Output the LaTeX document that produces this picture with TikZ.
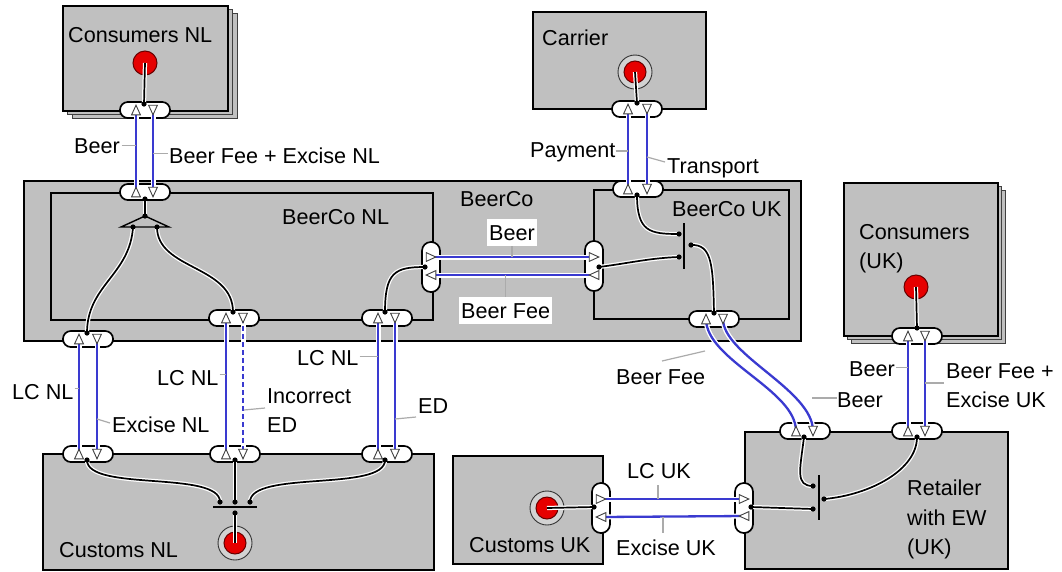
\documentclass[tikz,border=0pt]{standalone}
\usepackage{fontspec}
\setmainfont{Liberation Sans}
\usetikzlibrary{calc}
\definecolor{boxgray}{HTML}{C0C0C0}
\definecolor{ringgray}{HTML}{D2D2D2}
\definecolor{vtblue}{HTML}{3A3AD0}
\definecolor{stimred}{HTML}{E60000}
\definecolor{leadgray}{HTML}{ABABAB}
\tikzset{
 actor/.style={draw=black,line width=1.8pt,fill=boxgray,inner sep=0,anchor=north west},
 shadowbox/.style={draw=black!75,line width=1pt,fill=boxgray,inner sep=0,anchor=north west},
 hport/.style={draw=black,line width=1.7pt,fill=white,rounded corners=7.8pt,minimum width=50pt,minimum height=16pt,inner sep=0},
 vport/.style={draw=black,line width=1.7pt,fill=white,rounded corners=8.8pt,minimum width=18pt,minimum height=50pt,inner sep=0},
 dep/.style={draw=black,line width=1.7pt,preaction={draw=white,line width=4.2pt}},
 vt/.style={draw=vtblue,line width=2.3pt,preaction={draw=white,line width=5pt}},
 vtdash/.style={draw=vtblue,line width=2.3pt,dash pattern=on 5pt off 3pt,preaction={draw=white,line width=5pt}},
 lead/.style={draw=leadgray,line width=1.2pt},
 lbl/.style={font=\fontsize{21.6}{25}\selectfont,inner sep=0,anchor=base west},
 wlbl/.style={font=\fontsize{21.6}{25}\selectfont,inner xsep=2pt,inner ysep=6pt,fill=white,anchor=base west},
 startstim/.style={circle,minimum size=24pt,inner sep=0,fill=stimred,draw=black!60!red,line width=1pt},
 endouter/.style={circle,minimum size=34pt,inner sep=0,fill=ringgray,draw=black!80,line width=0.9pt},
 endinner/.style={circle,minimum size=22pt,inner sep=0,fill=stimred,draw=black!60!red,line width=1pt},
 element/.style={draw=black,line width=1.4pt},
 tristyle/.style={draw=black!75,fill=white,line width=0.9pt},
 triup/.pic={\draw[tristyle] (-4.4,4.8) -- (4.4,4.8) -- (0,-4.8) -- cycle;},
 tridown/.pic={\draw[tristyle] (-4.4,-4.8) -- (4.4,-4.8) -- (0,4.8) -- cycle;},
 triright/.pic={\draw[tristyle] (-4.8,-4.4) -- (-4.8,4.4) -- (4.8,0) -- cycle;},
 trileft/.pic={\draw[tristyle] (4.8,-4.4) -- (4.8,4.4) -- (-4.8,0) -- cycle;},
}
\begin{document}
\begin{tikzpicture}[x=1pt,y=-1pt]
\fill[white] (0,0) rectangle (1062,571);
\useasboundingbox (0,0) rectangle (1062,571);

% ---------- actors ----------
\node[shadowbox,minimum width=165pt,minimum height=105pt] (consnlS2) at (72,13) {};
\node[shadowbox,minimum width=165pt,minimum height=105pt] (consnlS1) at (67,9) {};
\node[actor,minimum width=165pt,minimum height=105pt] (consnl) at (62,5) {};
\node[actor,minimum width=173pt,minimum height=97pt] (carrier) at (532,11) {};
\node[actor,minimum width=777pt,minimum height=160pt] (beerco) at (23,180) {};
\node[actor,minimum width=382pt,minimum height=127pt] (beerconl) at (50,192) {};
\node[actor,minimum width=195pt,minimum height=129pt] (beercouk) at (593,189) {};
\node[shadowbox,minimum width=154pt,minimum height=153pt] (consukS2) at (851,190) {};
\node[shadowbox,minimum width=154pt,minimum height=153pt] (consukS1) at (847,186) {};
\node[actor,minimum width=154pt,minimum height=153pt] (consuk) at (843,182) {};
\node[actor,minimum width=391pt,minimum height=116pt] (customsnl) at (42,453) {};
\node[actor,minimum width=150pt,minimum height=108pt] (customsuk) at (452,455) {};
\node[actor,minimum width=263pt,minimum height=137pt] (retailer) at (744,431) {};

% ---------- ports ----------
\node[hport] (p1) at (145,110) {};
\node[hport] (p2) at (145,192) {};
\node[hport] (p3) at (637,109) {};
\node[hport] (p4) at (638,189) {};
\node[hport] (p5) at (88,339) {};
\node[hport] (p6) at (234,318) {};
\node[hport] (p7) at (387,318) {};
\node[hport] (p8) at (714,319) {};
\node[hport] (p9) at (917,336) {};
\node[hport] (p10) at (88,454) {};
\node[hport] (p11) at (235,454) {};
\node[hport] (p12) at (387,454) {};
\node[hport] (p13) at (805,431) {};
\node[hport] (p14) at (917,431) {};
\node[vport] (v1) at (431,267) {};
\node[vport] (v2) at (594,266) {};
\node[vport] (v3) at (601,508) {};
\node[vport] (v4) at (744,508) {};

% triangle positions
\coordinate (t1a) at (136,110); \coordinate (t1b) at (153,110);
\coordinate (t2a) at (136,192); \coordinate (t2b) at (153,192);
\coordinate (t3a) at (628,109); \coordinate (t3b) at (647,109);
\coordinate (t4a) at (628,189); \coordinate (t4b) at (647,189);
\coordinate (t5a) at (79,339);  \coordinate (t5b) at (97,339);
\coordinate (t6a) at (226,318); \coordinate (t6b) at (243,318);
\coordinate (t7a) at (378,318); \coordinate (t7b) at (395,318);
\coordinate (t8a) at (706,319); \coordinate (t8b) at (723,319);
\coordinate (t9a) at (908,336); \coordinate (t9b) at (925,336);
\coordinate (t10a) at (79,454); \coordinate (t10b) at (97,454);
\coordinate (t11a) at (226,454); \coordinate (t11b) at (243,454);
\coordinate (t12a) at (378,454); \coordinate (t12b) at (395,454);
\coordinate (t13a) at (796,431); \coordinate (t13b) at (813,431);
\coordinate (t14a) at (908,431); \coordinate (t14b) at (925,431);
\coordinate (u1a) at (431,257); \coordinate (u1b) at (431,275);
\coordinate (u2a) at (594,257); \coordinate (u2b) at (594,275);
\coordinate (u3a) at (601,499); \coordinate (u3b) at (601,517);
\coordinate (u4a) at (744,499); \coordinate (u4b) at (744,516);

% ---------- stimuli ----------
\node[startstim] (s1) at (145,63) {};
\node[startstim] (s2) at (916,287) {};
\node[endouter] (e1) at (635,72) {};
\node[endinner] (e1i) at (635,72) {};
\node[endouter] (e2) at (235,543) {};
\node[endinner] (e2i) at (235,543) {};
\node[endouter] (e3) at (547,508) {};
\node[endinner] (e3i) at (547,508) {};

% ---------- dependency points ----------
\coordinate (d1) at (144,104);
\coordinate (d2) at (145,199); \coordinate (d3) at (145,216);
\coordinate (d4) at (133,227); \coordinate (d5) at (157,227);
\coordinate (d6) at (87,333);
\coordinate (d7) at (233,312);
\coordinate (d8) at (385,312);
\coordinate (d9) at (425,267);
\coordinate (d10) at (599,267);
\coordinate (d11) at (679,234); \coordinate (d12) at (679,257); \coordinate (d13) at (691,245);
\coordinate (d14) at (637,195);
\coordinate (d15) at (714,313);
\coordinate (d16) at (637,103);
\coordinate (d17) at (917,328);
\coordinate (d18) at (87,460); \coordinate (d19) at (235,460); \coordinate (d20) at (385,460);
\coordinate (d21) at (220,502); \coordinate (d22) at (235,502); \coordinate (d23) at (250,502);
\coordinate (d24) at (235,513);
\coordinate (d25) at (804,437); \coordinate (d26) at (917,437);
\coordinate (d27) at (813,486); \coordinate (d28) at (813,509); \coordinate (d29) at (824,499);
\coordinate (d30) at (751,507);
\coordinate (d31) at (594,507);

% ---------- dependency paths ----------
\draw[dep] (s1.center) -- (d1);
\draw[dep] (s2.center) -- (d17);
\draw[dep] (e1i.center) -- (d16);
\draw[dep] (e2i.center) -- (d24);
\draw[dep] (e3i.center) -- (d31);
\draw[dep] (d2) -- (d3);
\draw[dep] (d4) .. controls (130,275) and (87,285) .. (d6);
\draw[dep] (d5) .. controls (157,270) and (233,265) .. (d7);
\draw[dep] (d8) .. controls (385,272) and (395,267) .. (d9);
\draw[dep] (d10) .. controls (630,263) and (650,258) .. (d12);
\draw[dep] (d14) .. controls (637,232) and (650,234) .. (d11);
\draw[dep] (d13) .. controls (712,244) and (713,265) .. (d15);
\draw[dep] (d18) .. controls (87,492) and (220,470) .. (d21);
\draw[dep] (d19) -- (d22);
\draw[dep] (d20) .. controls (385,492) and (250,470) .. (d23);
\draw[dep] (d25) .. controls (800,470) and (795,486) .. (d27);
\draw[dep] (d26) .. controls (917,470) and (870,495) .. (d29);
\draw[dep] (d30) -- (d28);

% logic elements
\draw[element,fill=boxgray] (121,227) -- (145,216) -- (169,227) -- cycle;
\draw[element] (684,223) -- (684,269);
\draw[element] (213,507) -- (257,507);
\draw[element] (819,475) -- (819,520);

% ---------- value transfers ----------
\draw[vt] (t2a) -- (t1a);
\draw[vt] (t1b) -- (t2b);
\draw[vt] (t4a) -- (t3a);
\draw[vt] (t3b) -- (t4b);
\draw[vt] (u1a) -- (u2a);
\draw[vt] (u2b) -- (u1b);
\draw[vt] (t10a) -- (t5a);
\draw[vt] (t5b) -- (t10b);
\draw[vt] (t11a) -- (t6a);
\draw[vtdash] (t6b) -- (t11b);
\draw[vt] (t12a) -- (t7a);
\draw[vt] (t7b) -- (t12b);
\draw[vt] (t13a) .. controls (796,390) and (706,360) .. (t8a);
\draw[vt] (t8b) .. controls (723,355) and (813,390) .. (t13b);
\draw[vt] (t14a) -- (t9a);
\draw[vt] (t9b) -- (t14b);
\draw[vt] (u3a) -- (u4a);
\draw[vt] (u4b) -- (u3b);

% triangles
\foreach \n in {t1a,t2a,t3a,t4a,t5a,t6a,t7a,t8a,t9a,t10a,t11a,t12a,t13a,t14a} {\pic at (\n) {triup};}
\foreach \n in {t1b,t2b,t3b,t4b,t5b,t6b,t7b,t8b,t9b,t10b,t11b,t12b,t13b,t14b} {\pic at (\n) {tridown};}
\foreach \n in {u1a,u2a,u3a,u4a} {\pic at (\n) {triright};}
\foreach \n in {u1b,u2b,u3b,u4b} {\pic at (\n) {trileft};}

% dots
\foreach \n in {d1,d2,d3,d4,d5,d6,d7,d8,d9,d10,d11,d12,d13,d14,d15,d16,d17,d18,d19,d20,d21,d22,d23,d24,d25,d26,d27,d28,d29,d30,d31}
  {\fill[black] (\n) circle (2.6pt);}

% ---------- labels ----------
\node[lbl] (lconsnl) at (68,42) {Consumers NL};
\node[lbl] (lcarrier) at (542,45) {Carrier};
\node[lbl] (lbeerco) at (460,206) {BeerCo};
\node[lbl] (lbeerconl) at (282,224) {BeerCo NL};
\node[lbl] (lbeercouk) at (672,216) {BeerCo UK};
\node[lbl] (lconsuk1) at (859,239) {Consumers};
\node[lbl] (lconsuk2) at (859,268) {(UK)};
\node[lbl] (lcustnl) at (59,557) {Customs NL};
\node[lbl] (lcustuk) at (469,552) {Customs UK};
\node[lbl] (lret1) at (907,495) {Retailer};
\node[lbl] (lret2) at (907,525) {with EW};
\node[lbl] (lret3) at (907,554) {(UK)};

\node[lbl] (v1l) at (74,153) {Beer};
\draw[lead] (v1l.east) ++(1.5,0) -- (t1a |- v1l.east);
\node[lbl] (v2l) at (169,163) {Beer Fee + Excise NL};
\draw[lead] (v2l.west) ++(-1.5,-1.5) -- ($(t1b |- v2l.west)+(0,-1.5)$);
\node[lbl] (v3l) at (530,157) {Payment};
\coordinate (v3c) at (628,151);
\draw[lead] (v3l.east |- v3c) -- (v3c);
\node[lbl] (v4l) at (667,173) {Transport};
\coordinate (v4c) at (647,157);
\draw[lead] (v4c) -- (665,162);
\node[wlbl] (v5l) at (487,240) {Beer};
\draw[lead] (v5l.south) -- (v5l.south |- u1a);
\node[wlbl] (v6l) at (459,318) {Beer Fee};
\draw[lead] (v6l.north) -- (v6l.north |- u1b);
\node[lbl] (v7l) at (297,365) {LC NL};
\draw[lead] (v7l.east) ++(1,-1) -- ($(t7a |- v7l.east)+(0,-1)$);
\node[lbl] (v8l) at (157,385) {LC NL};
\draw[lead] (v8l.east) ++(1,-3) -- ($(t6a |- v8l.east)+(0,-3)$);
\node[lbl] (v9l) at (12,399) {LC NL};
\draw[lead] (v9l.east) ++(1,-3) -- ($(t5a |- v9l.east)+(0,-3)$);
\node[lbl] (v10l) at (112,432) {Excise NL};
\coordinate (v10c) at (97,419);
\draw[lead] (v10c) -- (110,423);
\node[lbl] (v11l) at (267,403) {Incorrect};
\node[lbl] (v11m) at (267,432) {ED};
\coordinate (v11c) at (244,410);
\draw[lead] (v11c) -- (265,408);
\node[lbl] (v12l) at (418,413) {ED};
\coordinate (v12c) at (395,419);
\draw[lead] (v12c) -- (416,417);
\node[lbl] (v13l) at (616,384) {Beer Fee};
\coordinate (v13c) at (705,351);
\draw[lead] (662,361) -- (v13c);
\node[lbl] (v14l) at (837,407) {Beer};
\coordinate (v14c) at (812,398);
\draw[lead] (v14c) -- (v14l.west |- v14c);
\node[lbl] (v15l) at (849,376) {Beer};
\draw[lead] (v15l.east) ++(1,-1) -- ($(t9a |- v15l.east)+(0,-1)$);
\node[lbl] (v16l) at (946,378) {Beer Fee +};
\node[lbl] (v16m) at (946,407) {Excise UK};
\coordinate (v16c) at (925,383);
\draw[lead] (v16c) -- (944,383);
\node[lbl] (v17l) at (627,478) {LC UK};
\coordinate (v17c) at (658,499);
\draw[lead] (658,485) -- (v17c);
\node[lbl] (v18l) at (616,555) {Excise UK};
\coordinate (v18c) at (663,517);
\draw[lead] (v18c) -- (663,533);
\end{tikzpicture}
\end{document}
